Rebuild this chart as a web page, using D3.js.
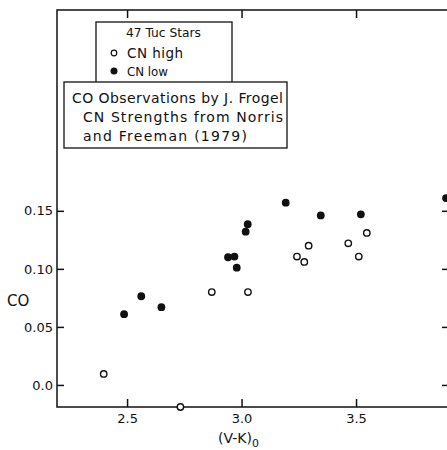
<!DOCTYPE html>
<html><head><meta charset="utf-8">
<script src="https://cdn.jsdelivr.net/npm/d3@7"></script>
<style>body{margin:0;background:#fff}svg{display:block}text{font-family:"DejaVu Sans",sans-serif;fill:#111}</style>
</head><body><svg id="c" width="447" height="450"></svg>
<script>
const xTicks = [2.5, 3.0, 3.5];
const xTickLabels = ["2.5", "3.0", "3.5"];
const yTicks = [0.0, 0.05, 0.10, 0.15];
const yTickLabels = ["0.0", "0.05", "0.10", "0.15"];
const lowVK = [3.193, 3.346, 3.521, 3.893, 3.027, 3.018, 2.941, 2.969, 2.979, 2.562, 2.650, 2.487];
const lowCO = [0.157, 0.146, 0.147, 0.161, 0.1385, 0.132, 0.110, 0.1106, 0.101, 0.0764, 0.067, 0.061];
const highVK = [3.547, 3.293, 3.466, 3.242, 3.274, 3.512, 2.870, 3.028, 2.398, 2.733];
const highCO = [0.131, 0.120, 0.122, 0.1106, 0.106, 0.1106, 0.080, 0.080, 0.0095, -0.019];
const legendTitle = "47 Tuc Stars";
const legendItems = ["CN high", "CN low"];
const noteLines = ["CO Observations by J. Frogel", "CN Strengths from Norris", "and Freeman (1979)"];

const svg = d3.select("#c");
const F = "DejaVu Sans, sans-serif";
const L = 57, R = 449, T = 10, B = 407;
const x = d3.scaleLinear().domain([2.194, 3.906]).range([L, R]);
const y = d3.scaleLinear().domain([-0.019, 0.323]).range([B, T]);

svg.append("rect").attr("x", L).attr("y", T).attr("width", R - L).attr("height", B - T)
  .attr("fill", "none").attr("stroke", "#111").attr("stroke-width", 1.5);

const fmtX = (d, i) => xTickLabels[i];
const fmtY = (d, i) => yTickLabels[i];
const bx = svg.append("g").attr("transform", `translate(0,${B})`)
  .call(d3.axisBottom(x).tickValues(xTicks).tickFormat(fmtX).tickSizeInner(-8).tickSizeOuter(0).tickPadding(7));
const tx = svg.append("g").attr("transform", `translate(0,${T})`)
  .call(d3.axisTop(x).tickValues(xTicks).tickFormat("").tickSizeInner(-8).tickSizeOuter(0));
const ly = svg.append("g").attr("transform", `translate(${L},0)`)
  .call(d3.axisLeft(y).tickValues(yTicks).tickFormat(fmtY).tickSizeInner(-7).tickSizeOuter(0).tickPadding(4));
const ry = svg.append("g").attr("transform", `translate(${R},0)`)
  .call(d3.axisRight(y).tickValues(yTicks).tickFormat("").tickSizeInner(-7).tickSizeOuter(0));
[bx, tx, ly, ry].forEach(g => {
  g.select(".domain").remove();
  g.selectAll(".tick line").attr("stroke", "#111").attr("stroke-width", 1.5);
  g.selectAll("text").attr("font-size", 13).attr("font-family", F).attr("fill", "#111");
});

svg.append("g").selectAll("circle").data(highVK.map((v, i) => [v, highCO[i]])).join("circle")
  .attr("cx", d => x(d[0])).attr("cy", d => y(d[1])).attr("r", 3.2)
  .attr("fill", "#fff").attr("stroke", "#111").attr("stroke-width", 1.4);
svg.append("g").selectAll("circle").data(lowVK.map((v, i) => [v, lowCO[i]])).join("circle")
  .attr("cx", d => x(d[0])).attr("cy", d => y(d[1])).attr("r", 3.9)
  .attr("fill", "#111");

// legend box
svg.append("rect").attr("x", 96).attr("y", 22).attr("width", 136).attr("height", 62)
  .attr("fill", "#fff").attr("stroke", "#111").attr("stroke-width", 1.3);
svg.append("text").attr("x", 126).attr("y", 37).attr("font-size", 13)
  .attr("textLength", 75).attr("lengthAdjust", "spacingAndGlyphs").text(legendTitle);
svg.append("circle").attr("cx", 114).attr("cy", 53).attr("r", 2.8).attr("fill", "#fff").attr("stroke", "#111").attr("stroke-width", 1.2);
svg.append("text").attr("x", 127).attr("y", 58).attr("font-size", 13.5)
  .attr("textLength", 56).attr("lengthAdjust", "spacing").text(legendItems[0]);
svg.append("circle").attr("cx", 114).attr("cy", 71).attr("r", 3.5).attr("fill", "#111");
svg.append("text").attr("x", 127).attr("y", 76).attr("font-size", 13)
  .attr("textLength", 41).attr("lengthAdjust", "spacingAndGlyphs").text(legendItems[1]);

// note box
svg.append("rect").attr("x", 64).attr("y", 82).attr("width", 223).attr("height", 66)
  .attr("fill", "#fff").attr("stroke", "#111").attr("stroke-width", 1.3);
const noteX = [72, 83, 83], noteY = [103, 122, 141], noteW = [211, 200, 164];
noteLines.forEach((t, i) => svg.append("text").attr("x", noteX[i]).attr("y", noteY[i]).attr("font-size", 14)
  .attr("textLength", noteW[i]).attr("lengthAdjust", "spacing").text(t));

// axis titles
svg.append("text").attr("x", 7).attr("y", 306).attr("font-size", 15).text("CO");
const xl = svg.append("text").attr("x", 218).attr("y", 443).attr("font-size", 14);
xl.append("tspan").text("(V-K)");
xl.append("tspan").attr("dy", 4).attr("font-size", 11).text("0");
</script></body></html>
